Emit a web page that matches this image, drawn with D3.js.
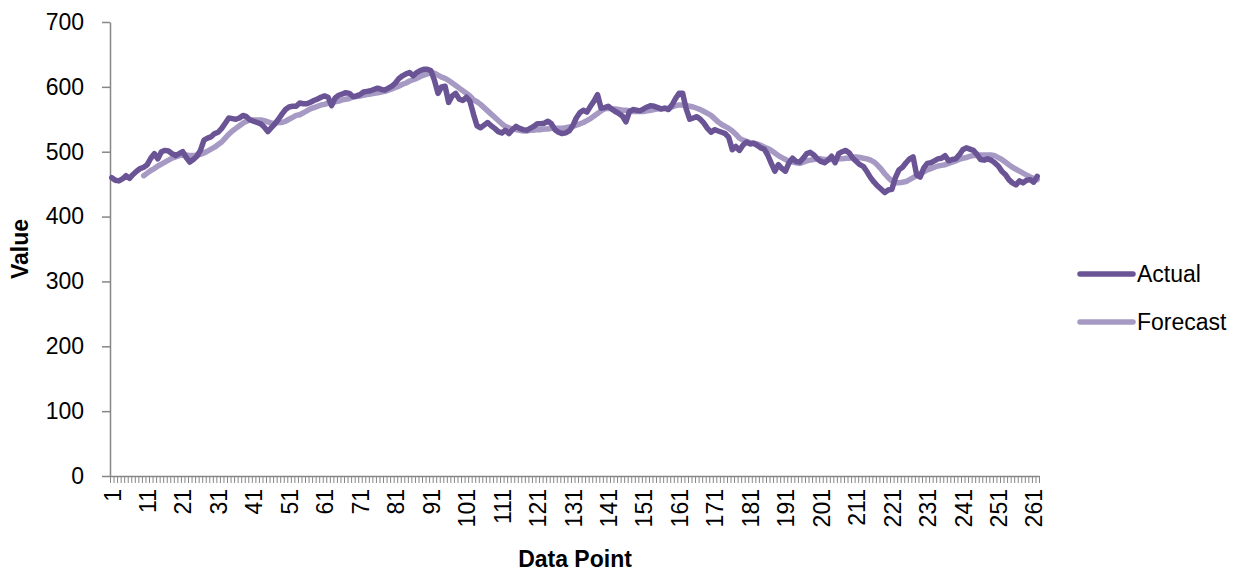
<!DOCTYPE html>
<html><head><meta charset="utf-8">
<script src="https://cdn.jsdelivr.net/npm/d3@7"></script>
<style>
body{margin:0;background:#fff;}
text{font-family:"Liberation Sans",Arial,sans-serif;fill:#000;}
</style>
</head><body>
<svg id="c" width="1245" height="574"></svg>
<script>
const actual = [
460,456,455,458,463,459,465,470,474,476,
480,490,497,489,500,502,501,497,494,497,
500,491,484,488,493,502,518,521,523,528,
530,536,544,552,551,550,552,556,554,549,
547,545,543,538,531,537,543,550,558,565,
569,570,570,575,574,574,576,579,581,584,
586,584,571,583,587,589,591,590,585,586,
588,592,593,594,596,598,596,595,598,601,
606,613,617,620,622,617,622,625,627,627,
625,610,590,600,601,576,586,590,581,579,
584,578,558,540,537,541,545,540,536,531,
529,533,528,534,539,536,534,533,536,539,
543,543,544,547,543,534,530,528,529,532,
540,552,560,564,561,570,578,588,567,568,
570,566,562,559,555,546,562,565,564,563,
566,569,571,570,568,566,567,565,572,582,
590,590,566,550,552,554,550,544,536,530,
534,532,530,528,522,503,508,502,510,515,
512,513,510,506,504,495,482,470,480,474,
470,483,490,485,484,490,497,499,495,489,
485,483,487,493,483,497,500,502,498,490,
485,480,477,469,460,453,447,442,437,441,
442,460,472,476,483,489,492,464,461,475,
482,483,486,489,490,494,486,488,489,495,
503,506,504,502,496,488,487,489,487,483,
478,470,465,457,452,449,455,452,456,457,453,462
];
const forecast = [
null,null,null,null,null,null,null,null,null,463,
467,471,474,478,481,484,487,490,492,494,
495,495,494,494,495,496,498,501,504,507,
511,515,521,527,532,536,540,544,547,549,
549,549,549,548,546,544,544,545,545,547,
550,553,556,557,560,563,566,568,570,572,
573,575,576,577,578,580,581,582,584,585,
586,587,588,589,590,591,592,593,595,597,
599,601,604,606,609,611,613,616,618,620,
622,621,618,615,613,610,606,602,598,594,
590,586,580,577,573,568,563,558,553,548,
543,539,537,535,534,533,532,532,533,533,
534,534,535,535,536,536,536,536,537,538,
539,541,543,545,548,551,555,559,563,566,
567,566,566,565,564,564,563,562,562,562,
562,563,564,565,566,566,567,567,569,571,
572,572,571,570,569,567,565,562,559,556,
551,546,542,539,536,532,527,521,518,516,
514,513,512,510,507,505,502,498,494,491,
488,485,484,483,482,484,486,487,488,489,
489,488,488,488,489,489,489,490,490,492,
492,491,490,489,487,484,479,473,466,460,
455,452,452,453,454,457,460,463,466,469,
472,474,476,478,479,480,482,484,486,488,
490,491,493,494,494,495,495,495,495,494,
491,488,484,480,476,473,470,467,464,461,459,457
];
const categories = d3.range(1, actual.length + 1);
const yTicks = [0,100,200,300,400,500,600,700];
const xTickLabels = categories.filter(c => (c - 1) % 10 === 0);
const seriesNames = ["Actual", "Forecast"];
const seriesColors = ["#6A5495", "#A699C3"];
const yTitle = "Value";
const xTitle = "Data Point";

const svg = d3.select("#c");
const L = 110, R = 1039, T = 22, B = 476;
const N = categories.length;
const x = d3.scaleLinear().domain([0.5, N + 0.5]).range([L, R]);
const y = d3.scaleLinear().domain([0, 700]).range([B, T]);
const axisColor = "#868686";

// Y axis
const ya = svg.append("g").attr("transform", `translate(${L},0)`)
  .call(d3.axisLeft(y).tickValues(yTicks).tickSize(8).tickSizeOuter(0).tickPadding(18));
ya.select(".domain").attr("stroke", axisColor).attr("stroke-width", 1.5);
ya.selectAll(".tick line").attr("stroke", axisColor).attr("stroke-width", 1.5);
ya.selectAll(".tick text").style("font-size", "23px").style("font-family", "Liberation Sans, Arial, sans-serif").attr("fill", "#000");

// X axis tick marks at category boundaries
const boundaries = d3.range(0, N + 1).map(i => i + 0.5);
const xa = svg.append("g").attr("transform", `translate(0,${B})`)
  .call(d3.axisBottom(x).tickValues(boundaries).tickSize(7).tickSizeOuter(0).tickFormat(""));
xa.select(".domain").attr("stroke", axisColor).attr("stroke-width", 1.5);
xa.selectAll(".tick line").attr("stroke", axisColor).attr("stroke-width", 1);

// X labels
const xl = svg.append("g").attr("transform", `translate(0,${B})`)
  .call(d3.axisBottom(x).tickValues(xTickLabels).tickSize(0).tickPadding(0).tickFormat(d3.format("d")));
xl.select(".domain").remove();
xl.selectAll(".tick text")
  .attr("transform", "rotate(-90)")
  .attr("text-anchor", "end")
  .attr("x", -13).attr("y", 0).attr("dy", "0.36em")
  .style("font-size", "23px").style("font-family", "Liberation Sans, Arial, sans-serif").attr("fill", "#000");

// Lines
const line = d3.line().defined(d => d.v != null).x(d => x(d.c)).y(d => y(d.v));
const series = [actual, forecast];
[1, 0].forEach(si => {
  const data = categories.map((c, i) => ({c, v: series[si][i]}));
  svg.append("path").datum(data)
    .attr("fill", "none").attr("stroke", seriesColors[si]).attr("stroke-width", 5.5)
    .attr("stroke-linejoin", "round").attr("stroke-linecap", "round")
    .attr("d", line);
});

// Axis titles
svg.append("text").attr("transform", "translate(28,249) rotate(-90)")
  .attr("text-anchor", "middle").style("font-size", "23px").style("font-weight", "bold").text(yTitle);
svg.append("text").attr("x", 575).attr("y", 567)
  .attr("text-anchor", "middle").style("font-size", "23px").style("font-weight", "bold").text(xTitle);

// Legend
const lg = svg.append("g");
seriesNames.forEach((nm, i) => {
  const ly = 274 + i * 48;
  lg.append("line").attr("x1", 1080).attr("x2", 1133).attr("y1", ly).attr("y2", ly)
    .attr("stroke", seriesColors[i]).attr("stroke-width", 5.5).attr("stroke-linecap", "round");
  lg.append("text").attr("x", 1137).attr("y", ly).attr("dy", "0.35em")
    .style("font-size", "23px").text(nm);
});
</script>
</body></html>
